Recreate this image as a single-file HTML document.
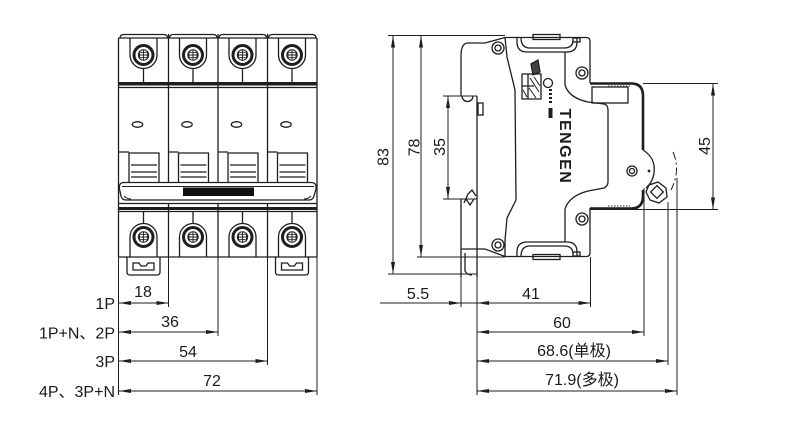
<!DOCTYPE html>
<html><head><meta charset="utf-8">
<style>
html,body{margin:0;padding:0;background:#fff;}
svg{display:block;}
text{font-family:"Liberation Sans","Noto Sans CJK SC",sans-serif;fill:#1a1a1a;font-size:16px;}
</style></head><body>
<svg width="790" height="427" viewBox="0 0 790 427" xmlns="http://www.w3.org/2000/svg">
<defs>
<g id="pole" fill="none" stroke="#1e1e1e" stroke-width="1.3">
  <path d="M1 38 Q1 34.5 5 34.5 L44.5 34.5 Q48.5 34.5 48.5 38"/>
  <path d="M11 38 L11 55 A13.5 13.5 0 0 0 38 55 L38 38"/>
  <circle cx="24.5" cy="55" r="9.5" stroke-width="3"/>
  <circle cx="24.5" cy="55" r="5.2" stroke-width="1"/>
  <path d="M20.5 51 L20.5 59 M24.5 49.5 L24.5 60.5 M28.5 51 L28.5 59 M19 55 L30 55 M20 52.3 L29 52.3 M20 57.7 L29 57.7" stroke-width="0.9"/>
  <path d="M24.5 68.5 L24.5 82"/>
  <ellipse cx="18.5" cy="124.5" rx="5.2" ry="2.8"/>
  <path d="M0 152 L10 152 M10 182 L10 153 L40 153 L40 182 M12 165 L38 165 M12 172 L38 172 M12 177 L38 177"/>
  <path d="M24.5 211 L24.5 223.5"/>
  <path d="M11 257 L11 237 A13.5 13.5 0 0 1 38 237 L38 257"/>
  <circle cx="24.5" cy="237" r="9.5" stroke-width="3"/>
  <circle cx="24.5" cy="237" r="5.2" stroke-width="1"/>
  <path d="M20.5 233 L20.5 241 M24.5 231.5 L24.5 242.5 M28.5 233 L28.5 241 M19 237 L30 237 M20 234.3 L29 234.3 M20 239.7 L29 239.7" stroke-width="0.9"/>
</g>
<g id="clip" fill="none" stroke="#1e1e1e" stroke-width="1.3">
  <path d="M8 257 L8 272 Q8 275 11 275 L38 275 Q41 275 41 272 L41 257"/>
  <path d="M14 270 L14 263 L20 263 L22 266 L27 266 L29 263 L35 263 L35 270 Z"/>
</g>
</defs>

<!-- ============ LEFT BREAKER ============ -->
<g fill="none" stroke="#1e1e1e" stroke-width="1.3">
  <path d="M118.5 257 L118.5 38 M317 38 L317 257"/>
  <path d="M118.5 38 L317 38"/>
  <path d="M168.5 34 L168.5 182 M218 34 L218 182 M267.5 34 L267.5 182"/>
  <path d="M168.5 203 L168.5 257 M218 203 L218 257 M267.5 203 L267.5 257"/>
  <path d="M118.5 87.5 L317 87.5"/>
  <path d="M118.5 203.5 L317 203.5"/>
  <path d="M118.5 211.5 L317 211.5"/>
  <path d="M118.5 257 L317 257"/>
</g>
<rect x="118.5" y="82" width="198.5" height="3.5" fill="#1e1e1e"/>
<rect x="118.5" y="207" width="198.5" height="3" fill="#1e1e1e"/>
<use href="#pole" transform="translate(119,0)"/>
<use href="#pole" transform="translate(168.5,0)"/>
<use href="#pole" transform="translate(218,0)"/>
<use href="#pole" transform="translate(267.5,0)"/>
<use href="#clip" transform="translate(119,0)"/>
<use href="#clip" transform="translate(267.5,0)"/>
<!-- toggle bar -->
<path d="M124 182.5 L311 182.5 Q317 182.5 316 189 L314 196 Q313 200 309 200 L126 200 Q122 200 121 196 L119.5 189 Q118.5 182.5 124 182.5 Z" fill="#fff" stroke="#1e1e1e" stroke-width="1.3"/>
<path d="M122 186.5 L314 186.5 M124 196 Q127 199 131 199 M311 196 Q308 199 304 199" fill="none" stroke="#1e1e1e" stroke-width="1"/>
<rect x="183" y="187.5" width="71" height="8.5" fill="#111"/>

<!-- left dimensions -->
<g fill="none" stroke="#1e1e1e" stroke-width="1">
  <path d="M118.5 257 L118.5 395 M168.5 257 L168.5 307 M218 257 L218 336 M267.5 257 L267.5 365 M317 257 L317 395"/>
  <path d="M119 303 L168.5 303 M119 332 L218 332 M119 361 L267.5 361 M119 391 L317 391"/>
</g>
<g fill="#1e1e1e">
  <polygon points="119,303 131,301 131,305"/><polygon points="168.5,303 156.5,301 156.5,305"/>
  <polygon points="119,332 131,330 131,334"/><polygon points="218,332 206,330 206,334"/>
  <polygon points="119,361 131,359 131,363"/><polygon points="267.5,361 255.5,359 255.5,363"/>
  <polygon points="119,391 131,389 131,393"/><polygon points="317,391 305,389 305,393"/>
</g>
<text x="115" y="309" text-anchor="end">1P</text>
<text x="115" y="338.5" text-anchor="end">1P+N、2P</text>
<text x="115" y="367" text-anchor="end">3P</text>
<text x="115" y="397" text-anchor="end">4P、3P+N</text>
<text x="143" y="297" text-anchor="middle">18</text>
<text x="170" y="327" text-anchor="middle">36</text>
<text x="188" y="357" text-anchor="middle">54</text>
<text x="212" y="386" text-anchor="middle">72</text>

<!-- ============ RIGHT SIDE VIEW ============ -->
<g fill="none" stroke="#1e1e1e" stroke-width="1.3">
  <path d="M461 96 L461 56 Q461 43 468 43 L485 43 L505 37.5 L586 37.5 Q590 37.5 590 41 L590 83"/>
  <path d="M461 199 L461 277 M461 249 L485 249 L505 256.5 L586 256.5 Q590 256.5 590 253 L590 208"/>
  <path d="M477 96 L477 277"/>
  <path d="M462 96 A5.5 5.5 0 0 0 473 96"/>
  <rect x="478" y="103" width="5" height="12"/>
  <path d="M464 203 L468 194 L472 190 L476 196 M466 199 L470 205 L474 199"/>
  <path d="M465 253 L465 271 Q467 275 472 275"/>
  <path d="M505 37.5 L507 57 L515 90 L516 200 L507 218 L505 240 L505 256.5"/>
  <circle cx="498" cy="48" r="6"/><circle cx="498" cy="48" r="3"/>
  <circle cx="498" cy="245" r="6"/><circle cx="498" cy="245" r="3"/>
  <path d="M517 37.5 L517 42 Q517 52 527 52 L567 52 Q577 52 577 42 L577 37.5"/>
  <path d="M521 37.5 Q521 48 530 48 L564 48 Q573 48 573 40"/>
  <rect x="533" y="34.5" width="27" height="5"/>
  <rect x="573" y="38" width="7" height="4"/>
  <path d="M517 256.5 L517 252 Q517 242 527 242 L567 242 Q577 242 577 252 L577 256.5"/>
  <path d="M521 256.5 Q521 246 530 246 L564 246 Q573 246 573 254"/>
  <rect x="533" y="254.5" width="27" height="5"/>
  <rect x="573" y="252" width="7" height="4"/>
  <path d="M565 52 L565 85 Q569 98 588 102 L604 104 Q608 105 608 110 L608 182 Q608 186 604 188 L588 191 Q569 196 565 209 L565 242"/>
  <circle cx="582" cy="73" r="6"/><circle cx="582" cy="73" r="3"/>
  <circle cx="582" cy="219" r="6"/><circle cx="582" cy="219" r="3"/>
  <rect x="592" y="87" width="36" height="16"/>
  <path d="M643 150 Q656 158 654 173 Q653 182 646 188"/>
  <circle cx="632" cy="171" r="5"/><circle cx="632" cy="171" r="2.5"/>
  <path d="M649 185 L658 182 L666 188 L667 197 L659 203 L650 200 L646 192 Z"/>
  <rect x="-4.5" y="-4.5" width="9" height="9" transform="translate(657,192) rotate(45)"/>
</g>
<circle cx="649" cy="171" r="1.4" fill="#1e1e1e"/>
<path d="M590 83.5 L632 83.5 Q643 84 643 96 L643 150" fill="none" stroke="#1e1e1e" stroke-width="2.6"/>
<path d="M590 208.5 L632 208.5 Q643 208 643 196 L643 190" fill="none" stroke="#1e1e1e" stroke-width="2.6"/>
<path d="M608 86 L630 86 M608 206 L630 206" fill="none" stroke="#555" stroke-width="1.2" stroke-dasharray="1.5 1.5"/>
<path d="M673 152 Q681 170 671 190" fill="none" stroke="#1e1e1e" stroke-width="1" stroke-dasharray="8 3 2 3"/>

<!-- logo -->
<g fill="none" stroke="#1e1e1e" stroke-width="1.3">
  <path d="M531 64 L538 60 L540 72 L533 75 Z" fill="#444"/>
  <path d="M522 74 L541 74 L541 99 L522 99 Z M522 86 L534 86 M528 74 L528 99"/>
  <path d="M530 78 L539 92 M534 77 L540 86 M529 88 L536 98 M523 90 L527 97" stroke-width="1"/>
  <circle cx="548" cy="83" r="4.5"/>
</g>
<path d="M550.5 89 L550.5 104" stroke="#1e1e1e" stroke-width="3" stroke-dasharray="2 2"/>
<rect x="548.5" y="108" width="4" height="10" fill="#1e1e1e"/>
<text transform="translate(560,146.5) rotate(90)" text-anchor="middle" style="font-weight:bold;font-size:16px;letter-spacing:1.5px">TENGEN</text>

<!-- right dimensions -->
<g fill="none" stroke="#1e1e1e" stroke-width="1">
  <path d="M388 35.5 L505 35.5 M417 257 L505 257 M388 274 L477 274 M443 96 L477 96 M443 199 L477 199 M643 83.5 L718 83.5 M590 209.5 L718 209.5"/>
  <path d="M393 35.5 L393 274 M421 35.5 L421 257 M448 96 L448 199 M713 83.5 L713 209.5"/>
  <path d="M461 277 L461 307 M477 277 L477 395 M590.5 257 L590.5 307 M644 188 L644 336 M668 202 L668 365 M677 178 L677 395"/>
  <path d="M380 303 L590.5 303 M477 332 L644 332 M477 361 L668 361 M477 391 L677 391"/>
</g>
<g fill="#1e1e1e">
  <polygon points="393,35.5 391,47.5 395,47.5"/><polygon points="393,274 391,262 395,262"/>
  <polygon points="421,35.5 419,47.5 423,47.5"/><polygon points="421,257 419,245 423,245"/>
  <polygon points="448,96 446,108 450,108"/><polygon points="448,199 446,187 450,187"/>
  <polygon points="713,83.5 711,95.5 715,95.5"/><polygon points="713,209.5 711,197.5 715,197.5"/>
  <polygon points="461,303 449,301 449,305"/><polygon points="477,303 489,301 489,305"/><polygon points="590.5,303 578.5,301 578.5,305"/>
  <polygon points="477,332 489,330 489,334"/><polygon points="644,332 632,330 632,334"/>
  <polygon points="477,361 489,359 489,363"/><polygon points="668,361 656,359 656,363"/>
  <polygon points="477,391 489,389 489,393"/><polygon points="677,391 665,389 665,393"/>
</g>
<text transform="translate(388.5,157) rotate(-90)" text-anchor="middle">83</text>
<text transform="translate(419.5,147.5) rotate(-90)" text-anchor="middle">78</text>
<text transform="translate(445,147) rotate(-90)" text-anchor="middle">35</text>
<text transform="translate(710,146) rotate(-90)" text-anchor="middle">45</text>
<text x="418" y="299" text-anchor="middle">5.5</text>
<text x="531" y="299" text-anchor="middle">41</text>
<text x="562" y="328" text-anchor="middle">60</text>
<text x="574" y="356" text-anchor="middle">68.6(单极)</text>
<text x="582" y="385" text-anchor="middle">71.9(多极)</text>
</svg>
</body></html>
